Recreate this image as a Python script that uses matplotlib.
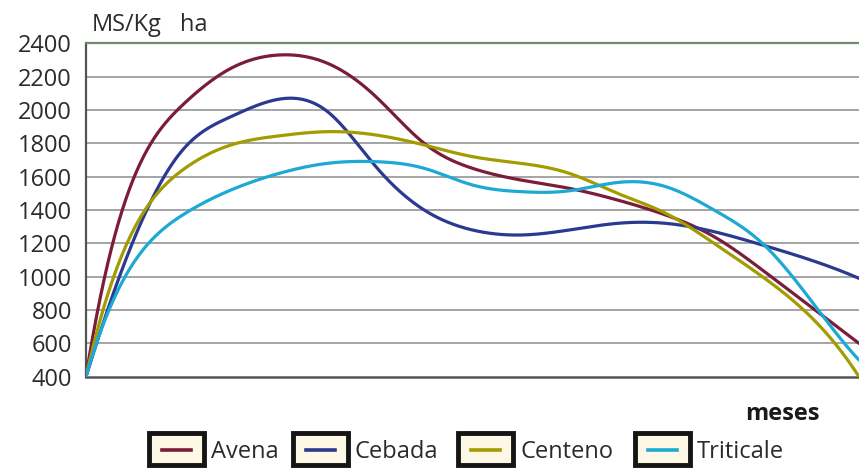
import numpy as np
import matplotlib
matplotlib.use("Agg")
import matplotlib.pyplot as plt
from matplotlib.patches import Rectangle
from matplotlib.lines import Line2D

# Forage yield (kg DM / ha) sampled every half month
meses = [0, 0.5, 1, 1.5, 2, 2.5, 3, 3.5, 4, 4.5, 5, 5.5, 6, 6.5, 7, 7.5, 8]
avena = [400, 1600, 2030, 2250, 2330, 2280, 2080, 1800, 1650, 1580, 1530,
         1460, 1370, 1240, 1040, 820, 600]
cebada = [400, 1230, 1760, 1960, 2065, 1990, 1660, 1400, 1280, 1250, 1280,
          1320, 1320, 1270, 1190, 1100, 990]
centeno = [400, 1290, 1640, 1790, 1845, 1870, 1850, 1790, 1720, 1680, 1620,
           1500, 1380, 1200, 1000, 760, 400]
triticale = [400, 1090, 1370, 1520, 1620, 1680, 1690, 1650, 1550, 1510, 1515,
             1565, 1540, 1400, 1200, 860, 500]

series_names = ["Avena", "Cebada", "Centeno", "Triticale"]
series_values = [avena, cebada, centeno, triticale]
series_colors = ["#7b1c3a", "#2b3990", "#a39c00", "#1ca9d3"]

y_ticks = [400, 600, 800, 1000, 1200, 1400, 1600, 1800, 2000, 2200, 2400]

FONT = "Open Sans"
TEXT = "#2b2b2b"


def smooth_curve(x, y, steps=40):
    """Not-a-knot cubic spline through equally spaced points."""
    x = np.asarray(x, float)
    y = np.asarray(y, float)
    n = len(y)
    h = x[1] - x[0]
    A = np.zeros((n, n))
    b = np.zeros(n)
    for i in range(1, n - 1):
        A[i, i - 1:i + 2] = [1, 4, 1]
        b[i] = 6 * (y[i + 1] - 2 * y[i] + y[i - 1]) / h**2
    A[0, 0:3] = [1, -2, 1]
    A[-1, -3:] = [1, -2, 1]
    M = np.linalg.solve(A, b)
    t = np.linspace(0, 1, steps, endpoint=False)
    xs, ys = [], []
    for i in range(n - 1):
        u = 1 - t
        seg = (u * y[i] + t * y[i + 1]
               + h**2 / 6 * ((u**3 - u) * M[i] + (t**3 - t) * M[i + 1]))
        xs.append(x[i] + t * h)
        ys.append(seg)
    xs.append([x[-1]])
    ys.append([y[-1]])
    return np.concatenate(xs), np.concatenate(ys)


W, H = 859, 468
fig = plt.figure(figsize=(W / 100, H / 100), dpi=100)
fig.patch.set_facecolor("white")

left, right, top, bottom = 86, 859, 43.3, 376.7
ax = fig.add_axes([left / W, 1 - bottom / H, (right - left) / W, (bottom - top) / H])
ax.set_facecolor("white")

for name, vals, col in zip(series_names, series_values, series_colors):
    sx, sy = smooth_curve(meses, vals)
    ax.plot(sx, sy, color=col, lw=2.3, solid_capstyle="round", zorder=3)

ax.set_xlim(meses[0], meses[-1])
ax.set_ylim(y_ticks[0], y_ticks[-1])
ax.set_xticks([])
ax.set_yticks(y_ticks)
ax.set_yticklabels([str(v) for v in y_ticks], fontfamily=FONT, fontsize=17, color=TEXT)
ax.tick_params(axis="y", length=0, pad=10)

for v in y_ticks[1:-1]:
    ax.axhline(v, color="#8c8c8c", lw=1.1, zorder=1)

ax.spines["right"].set_visible(False)
ax.spines["left"].set_color("#555555")
ax.spines["left"].set_linewidth(1.6)
ax.spines["bottom"].set_color("#555555")
ax.spines["bottom"].set_linewidth(1.8)
ax.spines["top"].set_color("#6f8a6f")
ax.spines["top"].set_linewidth(1.6)

# Axis captions
fig.text(92 / W, 1 - 31 / H, "MS/Kg", fontfamily=FONT, fontsize=17, color=TEXT,
         ha="left", va="baseline")
fig.text(180 / W, 1 - 31 / H, "ha", fontfamily=FONT, fontsize=17, color=TEXT,
         ha="left", va="baseline")
fig.text(820 / W, 1 - 420 / H, "meses", fontfamily=FONT, fontsize=17,
         fontweight="bold", color="#1a1a1a", ha="right", va="baseline")

# Boxed legend under the plot
box_x = [149, 293, 458, 635]
box_w, box_y0, box_y1 = 55, 433, 465
for bx, name, col in zip(box_x, series_names, series_colors):
    fig.add_artist(Rectangle((bx / W, 1 - box_y1 / H), box_w / W, (box_y1 - box_y0) / H,
                             transform=fig.transFigure, facecolor="#fdf8e6",
                             edgecolor="#151515", lw=3.5))
    ly = 1 - 450 / H
    fig.add_artist(Line2D([(bx + 13) / W, (bx + box_w - 13) / W], [ly, ly],
                          transform=fig.transFigure, color=col, lw=2.6))
    fig.text((bx + box_w + 7) / W, 1 - 458 / H, name, fontfamily=FONT, fontsize=17,
             color=TEXT, ha="left", va="baseline")

fig.savefig("out.png", dpi=100, facecolor="white")
